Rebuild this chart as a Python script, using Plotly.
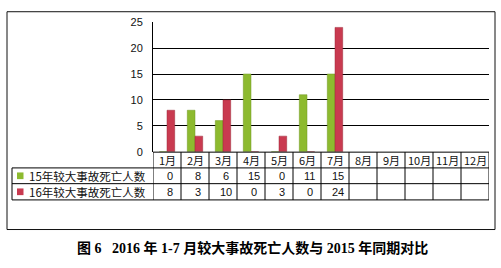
import plotly.graph_objects as go

# ---- data ----
months = ["1月", "2月", "3月", "4月", "5月", "6月", "7月", "8月", "9月", "10月", "11月", "12月"]
series_names = ["15年较大事故死亡人数", "16年较大事故死亡人数"]
deaths_2015 = [0, 8, 6, 15, 0, 11, 15, None, None, None, None, None]
deaths_2016 = [8, 3, 10, 0, 3, 0, 24, None, None, None, None, None]
y_ticks = [0, 5, 10, 15, 20, 25]
caption = "图 6   2016 年 1-7 月较大事故死亡人数与 2015 年同期对比"

# ---- style ----
W, H = 501, 268
GREEN = "#8dba2f"
GREEN_LINE = "#6f9620"
RED = "#c93a50"
RED_LINE = "#9c2a3a"
colors = [GREEN, RED]
line_colors = [GREEN_LINE, RED_LINE]
CJK = "Noto Sans CJK SC, Liberation Sans, sans-serif"


def px(x):
    return x / W


def py(y):
    return 1 - y / H


PLOT_L, PLOT_R, PLOT_T, PLOT_B = 153, 489, 17, 152.5
TABLE_L = 12
ROW_Y = [153, 169.5, 186, 203]  # header top, header bottom/row1 top, row2 top, bottom

fig = go.Figure()
series = [deaths_2015, deaths_2016]
for name, vals, c, lc in zip(series_names, series, colors, line_colors):
    fig.add_trace(go.Bar(
        x=list(range(len(months))), y=vals, name=name,
        marker=dict(color=c, line=dict(color=lc, width=0.5)),
        hoverinfo="skip",
    ))

shapes = []
annotations = []

# outer border
shapes.append(dict(type="rect", xref="paper", yref="paper",
                   x0=px(7), x1=px(495), y0=py(234), y1=py(6),
                   line=dict(color="#111", width=1)))

# table horizontal lines
shapes.append(dict(type="line", xref="paper", yref="paper",
                   x0=px(PLOT_L), x1=px(PLOT_R), y0=py(ROW_Y[0]), y1=py(ROW_Y[0]),
                   line=dict(color="#000", width=1)))
for yy in ROW_Y[1:]:
    shapes.append(dict(type="line", xref="paper", yref="paper",
                       x0=px(TABLE_L), x1=px(PLOT_R), y0=py(yy), y1=py(yy),
                       line=dict(color="#000", width=1)))
# left edge of label column
shapes.append(dict(type="line", xref="paper", yref="paper",
                   x0=px(TABLE_L), x1=px(TABLE_L), y0=py(ROW_Y[1]), y1=py(ROW_Y[3]),
                   line=dict(color="#000", width=1)))
# month column separators (on the category scale)
for i in range(len(months) + 1):
    shapes.append(dict(type="line", xref="x", yref="paper",
                       x0=i - 0.5, x1=i - 0.5, y0=py(ROW_Y[0]), y1=py(ROW_Y[3]),
                       line=dict(color="#000", width=1)))

# header month labels
for i, m in enumerate(months):
    annotations.append(dict(xref="x", yref="paper", x=i, y=py((ROW_Y[0] + ROW_Y[1]) / 2),
                            text=m, showarrow=False, xanchor="center", yanchor="middle",
                            font=dict(family=CJK, size=11, color="#111")))

# row labels with legend keys + values
for r, (name, vals, c) in enumerate(zip(series_names, series, colors)):
    yc = (ROW_Y[r + 1] + ROW_Y[r + 2]) / 2
    shapes.append(dict(type="rect", xref="paper", yref="paper",
                       x0=px(17), x1=px(23.5), y0=py(yc + 3.5), y1=py(yc - 3.5),
                       fillcolor=c, line=dict(width=0)))
    annotations.append(dict(xref="paper", yref="paper", x=px(26.5), y=py(yc),
                            text=name, showarrow=False, xanchor="left", yanchor="middle",
                            font=dict(family=CJK, size=11.5, color="#111")))
    for i, v in enumerate(vals):
        if v is None:
            continue
        annotations.append(dict(xref="x", yref="paper", x=i + 0.1, y=py(yc),
                                text=str(v), showarrow=False, xanchor="center", yanchor="middle",
                                font=dict(family="Liberation Sans, sans-serif", size=11, color="#111")))

# caption
annotations.append(dict(xref="paper", yref="paper", x=px(252.5), y=py(253),
                        text="<b>" + caption + "</b>", showarrow=False,
                        xanchor="center", yanchor="middle",
                        font=dict(family="Liberation Serif, Noto Sans CJK SC, serif", size=14, color="#000")))

fig.update_layout(
    width=W, height=H,
    margin=dict(l=0, r=0, t=0, b=0),
    paper_bgcolor="white", plot_bgcolor="white",
    barmode="group", bargap=0.45, bargroupgap=0,
    showlegend=False,
    shapes=shapes, annotations=annotations,
    xaxis=dict(domain=[px(PLOT_L), px(PLOT_R)], range=[-0.5, len(months) - 0.5],
               showticklabels=False, showgrid=False, zeroline=False, showline=False,
               ticks="", fixedrange=True),
    yaxis=dict(domain=[py(PLOT_B), py(PLOT_T)], range=[0, 25], tickvals=y_ticks,
               showgrid=True, gridcolor="#000", gridwidth=1,
               zeroline=False, showline=True, linecolor="#000", linewidth=1,
               ticks="", ticklabelstandoff=7,
               tickfont=dict(family="Liberation Sans, sans-serif", size=11, color="#111"),
               fixedrange=True),
)

fig.write_html("out.html")
